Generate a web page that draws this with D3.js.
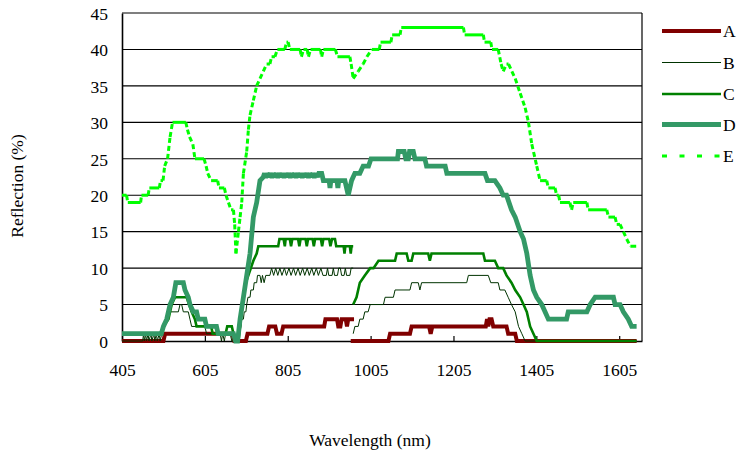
<!DOCTYPE html>
<html>
<head>
<meta charset="utf-8">
<script src="https://cdn.jsdelivr.net/npm/d3@7/dist/d3.min.js"></script>
<style>
  body { margin: 0; background: #fff; }
  svg { display: block; }
</style>
</head>
<body>
<svg id="chart" width="738" height="456"></svg>
<script>
// Axis ticks
const xTickValues = [405, 605, 805, 1005, 1205, 1405, 1605];
const yTickValues = [0, 5, 10, 15, 20, 25, 30, 35, 40, 45];
const seriesNames = ["A", "B", "C", "D", "E"];

// Reflection (%) against wavelength (nm); a null value splits the
// visible/near-infrared part from the short-wave infrared part.
const reflA = [
  [405,0],[505,0],[509,1],[672,1],[676,0],[704,0],[708,1],[756,1],[760,2],[775,2],[779,1],[790,1],[794,2],
  [893,2],[896,3],[924,3],[927,2],[932,2],[935,3],[945,3],[948,2],[951,3],[965,3],[965,null],
  [957,0],[1048,0],[1052,1],[1100,1],[1104,2],[1146,2],[1150,1],[1154,2],[1283,2],[1286,3],[1289,2],
  [1292,3],[1297,3],[1301,2],[1333,2],[1337,1],[1354,1],[1358,0],[1647,0]
];
const reflB = [
  [405,0],[455,0],[457,1],[459,0],[462,1],[464,0],[468,1],[470,0],[475,1],[477,0],[482,1],[484,0],
  [488,1],[490,0],[495,1],[497,0],[501,1],[505,2],[513,3],[521,4],[541,4],[545,5],[549,5],[553,4],
  [565,4],[569,3],[573,2],[605,2],[609,1],[642,1],[645,0],[648,1],[652,0],[655,1],[666,1],[670,0],
  [686,0],[688,1],[692,2],[694,3],[698,3],[700,4],[704,4],[706,5],[709,6],[714,6],[716,7],[722,7],
  [724,8],[730,8],[732,9],[738,9],[741,8],[744,9],[748,8],[752,9],[762,9],[766,10],[771,9],[776,10],
  [781,9],[786,10],[791,9],[797,10],[802,9],[808,10],[813,9],[819,10],[824,9],[830,10],[835,9],
  [841,10],[846,9],[852,10],[857,9],[863,10],[868,9],[874,10],[879,9],[885,10],[890,9],[898,9],
  [901,10],[904,9],[912,9],[915,10],[918,9],[925,9],[928,10],[932,10],[935,9],[941,9],[944,10],
  [947,9],[955,9],[958,10],[963,10],[963,null],
  [963,1],[967,2],[975,2],[979,3],[987,3],[991,4],[999,4],[1004,5],[1036,5],[1040,6],[1060,6],[1064,7],
  [1100,7],[1104,8],[1120,8],[1124,7],[1128,8],[1237,8],[1241,9],[1289,9],[1295,8],[1313,8],[1317,7],
  [1329,7],[1337,6],[1345,5],[1354,4],[1362,2],[1370,1],[1378,0],[1647,0]
];
const reflC = [
  [405,1],[497,1],[505,2],[517,3],[525,5],[533,6],[561,6],[567,5],[573,4],[581,3],[585,2],[620,2],
  [624,1],[655,1],[659,2],[670,2],[674,1],[679,0],[686,0],[690,2],[694,4],[698,6],[704,8],[710,9],
  [716,10],[722,11],[730,12],[734,13],[782,13],[785,14],[795,14],[798,13],[800,14],[810,14],[813,13],
  [816,14],[830,14],[833,13],[836,14],[848,14],[851,13],[854,14],[865,14],[868,13],[871,14],[885,14],
  [888,13],[891,14],[905,14],[908,13],[912,14],[919,14],[922,13],[940,13],[942,12],[944,13],[955,13],
  [957,12],[959,13],[963,13],[963,null],
  [963,5],[971,6],[979,8],[991,9],[1004,10],[1012,10],[1024,11],[1064,11],[1068,12],[1092,12],[1096,11],
  [1104,11],[1108,12],[1144,12],[1148,11],[1152,12],[1277,12],[1281,11],[1305,11],[1313,10],[1325,10],
  [1333,9],[1345,8],[1354,7],[1366,6],[1374,5],[1382,4],[1390,2],[1398,1],[1406,0],[1647,0]
];
const reflD = [
  [405,1],[500,1],[505,2],[513,3],[521,5],[529,6],[535,8],[553,8],[557,7],[565,6],[569,5],[577,4],
  [585,4],[589,3],[605,3],[609,2],[633,2],[637,1],[674,1],[679,0],[684,0],[690,3],[698,6],[706,9],
  [714,12],[722,17],[730,19],[738,22],[746,22.5],[749,23],[752,22.4],[755,23],[759,22.5],[763,23],
  [767,22.4],[770,23],[774,22.5],[778,23],[781,22.4],[785,23],[789,22.5],[792,23],[796,22.4],[800,23],
  [803,22.5],[807,23],[811,22.4],[814,23],[818,22.5],[822,23],[825,22.4],[829,23],[833,22.5],[836,23],
  [840,22.4],[844,23],[847,22.5],[851,23],[855,22.4],[858,23],[862,22.5],[866,23],[869,22.4],[873,23],
  [877,22.5],[880,23],[887,23],[891,22],[905,22],[907,21],[909,22],[924,22],[926,21],[928,22],
  [943,22],[947,21],[951,20],[955,21],[959,22],[967,23],[979,23],[987,24],[1000,24],[1006,25],
  [1070,25],[1072,26],[1086,26],[1090,25],[1096,25],[1099,26],[1108,26],[1112,25],[1136,25],[1140,24],
  [1185,24],[1189,23],[1281,23],[1287,22],[1305,22],[1317,21],[1325,20],[1333,20],[1345,18],[1354,17],
  [1366,15],[1374,14],[1382,12],[1390,9],[1398,7],[1406,6],[1418,5],[1426,4],[1434,3],[1478,3],
  [1482,4],[1527,4],[1535,5],[1547,6],[1591,6],[1595,5],[1607,5],[1615,4],[1627,3],[1635,2],[1647,2]
];
const reflE = [
  [405,20],[416,20],[419,19],[450,19],[452,20],[468,20],[471,21],[495,21],[498,22],[504,22],[508,24],
  [515,25],[521,28],[527,30],[559,30],[563,29],[568,28],[576,27],[581,25],[603,25],[608,24],[612,23],
  [620,22],[636,22],[639,21],[652,21],[656,20],[662,19],[668,18],[674,18],[677,16],[680,12],[686,15],
  [690,17],[694,19],[698,23],[706,26],[710,29],[714,31],[722,33],[730,35],[738,36],[746,37],[754,38],
  [762,38],[766,39],[774,39],[780,40],[798,40],[802,41],[806,41],[810,40],[835,40],[838,39],[843,40],
  [852,40],[855,39],[860,40],[884,40],[887,39],[891,40],[920,40],[925,39],[955,39],[958,38],[963,36],
  [975,37],[987,38],[996,39],[1008,40],[1026,40],[1029,41],[1054,41],[1057,42],[1076,42],[1079,43],
  [1229,43],[1232,42],[1277,42],[1280,41],[1295,41],[1298,40],[1313,40],[1320,38],[1325,37],[1333,38],
  [1338,38],[1346,37],[1354,36],[1366,34],[1378,32],[1386,30],[1394,27],[1406,24],[1414,22],[1430,22],
  [1434,21],[1450,21],[1454,20],[1459,20],[1462,19],[1486,19],[1490,18],[1494,19],[1527,19],[1530,18],
  [1575,18],[1579,17],[1595,17],[1599,16],[1607,16],[1615,15],[1623,14],[1632,13],[1646,13]
];

const seriesData = [reflA, reflB, reflC, reflD, reflE];
const seriesColors = ["#800000", "#003300", "#008000", "#339966", "#00ff00"];
const seriesWidths = [4, 1, 2.6, 4.8, 3];

const FONT = '"Liberation Serif", "DejaVu Serif", "Times New Roman", serif';
const FONT_SIZE = 17.5;

const svg = d3.select("#chart");
const plot = { left: 122, right: 642, top: 13, bottom: 341 };

const x = d3.scaleLinear().domain([405, 1660]).range([plot.left, plot.right]);
const y = d3.scaleLinear().domain([0, 45]).range([plot.bottom, plot.top]);

// Horizontal gridlines
svg.append("g")
  .selectAll("line")
  .data(yTickValues.filter(v => v > 0))
  .join("line")
  .attr("x1", plot.left).attr("x2", plot.right)
  .attr("y1", d => y(d)).attr("y2", d => y(d))
  .attr("stroke", "#000").attr("stroke-width", 1.1);

// Right border of the plot area
svg.append("line")
  .attr("x1", plot.right).attr("x2", plot.right)
  .attr("y1", plot.top).attr("y2", plot.bottom)
  .attr("stroke", "#000").attr("stroke-width", 1.2);

// Y axis
const yAxis = d3.axisLeft(y).tickValues(yTickValues).tickFormat(d3.format("d"))
  .tickSize(0).tickPadding(14);
const gy = svg.append("g").attr("transform", `translate(${plot.left},0)`).call(yAxis);
gy.attr("font-family", FONT).attr("font-size", FONT_SIZE);
gy.select(".domain").attr("stroke", "#000").attr("stroke-width", 1.6);
gy.selectAll("text").attr("fill", "#000").attr("dy", "0.36em");

// X axis, ticks pointing into the plot
const xAxis = d3.axisBottom(x).tickValues(xTickValues).tickFormat(d3.format("d"))
  .tickSizeInner(-5).tickSizeOuter(0).tickPadding(23);
const gx = svg.append("g").attr("transform", `translate(0,${plot.bottom})`).call(xAxis);
gx.attr("font-family", FONT).attr("font-size", FONT_SIZE);
gx.select(".domain").attr("stroke", "#000").attr("stroke-width", 1.6);
gx.selectAll(".tick line").attr("stroke", "#000").attr("stroke-width", 1.2);
gx.selectAll("text").attr("fill", "#000");

// Axis titles
svg.append("text")
  .attr("x", 370).attr("y", 446)
  .attr("text-anchor", "middle")
  .attr("font-family", FONT).attr("font-size", FONT_SIZE)
  .text("Wavelength (nm)");
svg.append("text")
  .attr("transform", "translate(23,186) rotate(-90)")
  .attr("text-anchor", "middle")
  .attr("font-family", FONT).attr("font-size", FONT_SIZE)
  .text("Reflection (%)");

// Series A-D as solid lines
const line = d3.line()
  .defined(d => d[1] !== null)
  .x(d => x(d[0]))
  .y(d => y(d[1]));

const lines = svg.append("g");
for (let i = 0; i < 4; i++) {
  lines.append("path")
    .datum(seriesData[i])
    .attr("d", line)
    .attr("fill", "none")
    .attr("stroke", seriesColors[i])
    .attr("stroke-width", seriesWidths[i])
    .attr("stroke-linejoin", "miter")
    .attr("stroke-miterlimit", 2);
}

// Series E: flat runs are solid, each change of level is a fresh dash
const gE = svg.append("g");
const runs = [];
let cur = null;
for (let i = 0; i < reflE.length - 1; i++) {
  const a = reflE[i], b = reflE[i + 1];
  if (a[1] === b[1]) {
    if (!cur) { cur = [a]; runs.push({ flat: true, pts: cur }); }
    cur.push(b);
  } else {
    cur = null;
    runs.push({ flat: false, pts: [a, b] });
  }
}
gE.selectAll("path")
  .data(runs)
  .join("path")
  .attr("d", d => line(d.pts))
  .attr("fill", "none")
  .attr("stroke", seriesColors[4])
  .attr("stroke-width", seriesWidths[4])
  .attr("stroke-dasharray", d => d.flat ? null : "5,3");

// Legend
const legendY = [31, 62.5, 94, 124.5, 156];
const legend = svg.append("g").attr("font-family", FONT).attr("font-size", FONT_SIZE);
seriesNames.forEach((name, i) => {
  legend.append("line")
    .attr("x1", 662).attr("x2", 721)
    .attr("y1", legendY[i]).attr("y2", legendY[i])
    .attr("stroke", seriesColors[i])
    .attr("stroke-width", seriesWidths[i])
    .attr("stroke-dasharray", i === 4 ? "5,12.5" : null);
  legend.append("text")
    .attr("x", 723).attr("y", legendY[i])
    .attr("dy", "0.36em")
    .attr("fill", "#000")
    .text(name);
});
</script>
</body>
</html>
